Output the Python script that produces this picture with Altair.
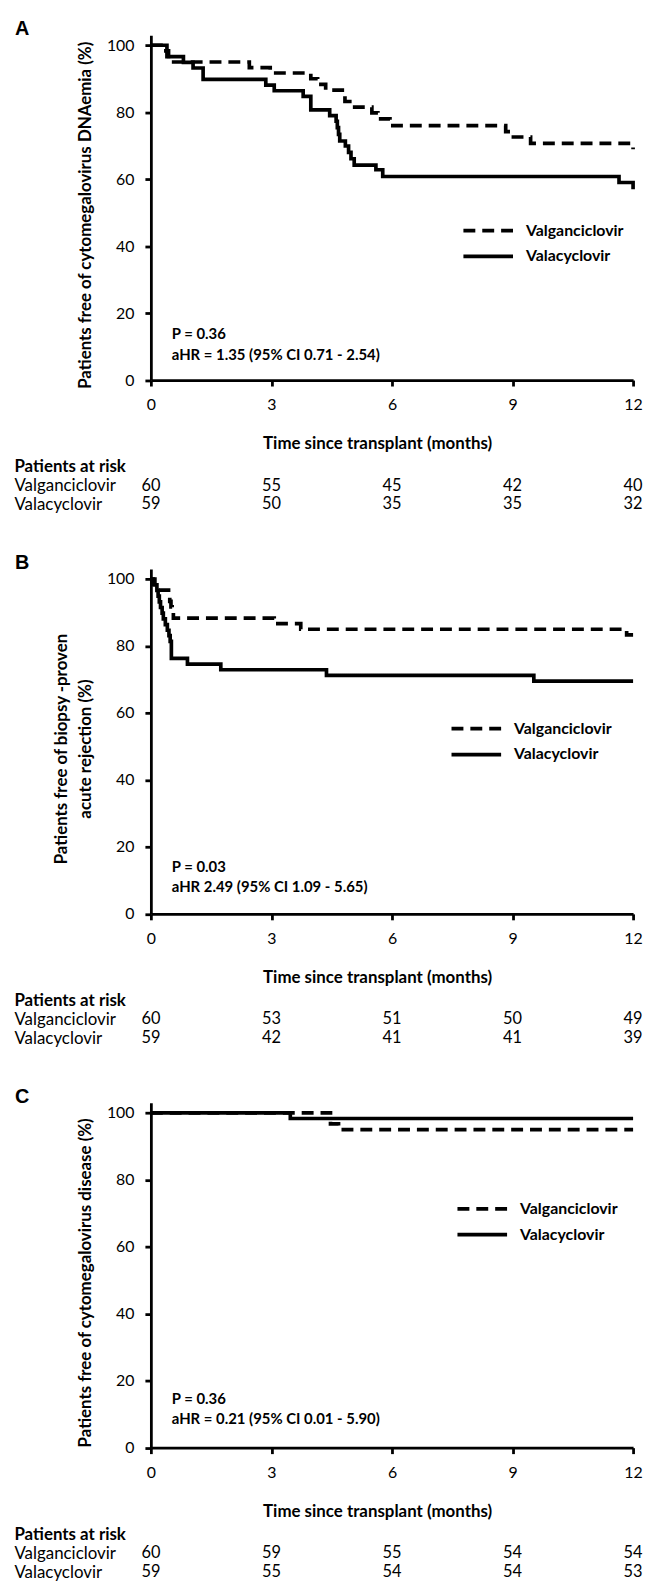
import altair as alt
import pandas as pd

SERIES = ["Valganciclovir", "Valacyclovir"]
RISK_ROWS = ["Patients at risk", "Valganciclovir", "Valacyclovir"]
risk_times = [0, 3, 6, 9, 12]

# ---------------- Panel A : CMV DNAemia ----------------
a_valg_t = [0, 0.31, 0.44, 2.45, 2.97, 3.98, 4.15, 4.35, 4.83, 4.95, 5.5, 5.65, 5.95, 8.83, 8.97, 9.45, 12.0]
a_valg_s = [100, 98.3, 95.0, 93.3, 91.7, 90.0, 88.3, 86.6, 83.2, 81.5, 79.8, 78.0, 76.0, 74.2, 72.6, 70.7, 68.9]
a_vala_t = [0, 0.40, 0.81, 1.05, 1.30, 2.86, 3.07, 3.79, 3.98, 4.45, 4.61, 4.64, 4.67, 4.70, 4.84, 4.92, 4.98,
            5.06, 5.60, 5.77, 11.65, 12.0]
a_vala_s = [100, 96.6, 94.9, 93.2, 89.8, 88.1, 86.4, 84.7, 80.7, 79.0, 77.3, 75.4, 73.4, 71.4, 69.9, 68.0, 66.1,
            64.2, 62.8, 60.8, 59.0, 57.0]
a_risk_valg = [60, 55, 45, 42, 40]
a_risk_vala = [59, 50, 35, 35, 32]
a_ytitle = "Patients free of cytomegalovirus DNAemia (%)"
a_p = "P = 0.36"
a_hr = "aHR = 1.35 (95% CI 0.71 - 2.54)"

# ---------------- Panel B : biopsy-proven acute rejection ----------------
b_valg_t = [0, 0.10, 0.20, 0.44, 0.47, 0.50, 0.53, 0.56, 3.07, 3.73, 11.84, 12.0]
b_valg_s = [100, 98.3, 96.7, 95.0, 93.3, 91.7, 90.0, 88.3, 86.7, 85.0, 83.3, 83.3]
b_vala_t = [0, 0.06, 0.15, 0.18, 0.21, 0.24, 0.28, 0.31, 0.36, 0.41, 0.45, 0.48, 0.51, 0.91, 1.74, 4.37, 9.53, 12.0]
b_vala_s = [100, 98.3, 96.6, 94.9, 93.2, 91.5, 89.8, 88.1, 86.4, 84.7, 83.1, 81.4, 76.3, 74.6, 72.9, 71.2, 69.5, 69.5]
b_risk_valg = [60, 53, 51, 50, 49]
b_risk_vala = [59, 42, 41, 41, 39]
b_ytitle = ["Patients free of biopsy -proven", "acute rejection (%)"]
b_p = "P = 0.03"
b_hr = "aHR 2.49 (95% CI 1.09 - 5.65)"

# ---------------- Panel C : CMV disease ----------------
c_valg_t = [0, 4.47, 4.67, 12.0]
c_valg_s = [100, 96.7, 95.0, 95.0]
c_vala_t = [0, 3.47, 12.0]
c_vala_s = [100, 98.3, 98.3]
c_risk_valg = [60, 59, 55, 54, 54]
c_risk_vala = [59, 55, 54, 54, 53]
c_ytitle = "Patients free of cytomegalovirus disease (%)"
c_p = "P = 0.36"
c_hr = "aHR = 0.21 (95% CI 0.01 - 5.90)"

# ---------------- layout / style ----------------
FONT = "Lato"
W = 486
YMAX = 103
HC = 347.6
SP = 10
HR = 537 - HC - 2 * SP
ANNOT_T = 0.52


def curves_chart(letter, ytitle, valg, vala, p_txt, hr_txt, ann_s, leg_x, leg_y):
    rows = []
    for name, (ts, ss) in zip(SERIES, [valg, vala]):
        for t, s in zip(ts, ss):
            rows.append({"series": name, "t": t, "s": s})
    df = pd.DataFrame(rows)

    x = alt.X("t:Q", scale=alt.Scale(domain=[0, 12], nice=False, zero=False),
              axis=alt.Axis(values=[0, 3, 6, 9, 12], title="Time since transplant (months)",
                            labelPadding=11, titlePadding=23, titleX=228, labelFlush=False))
    y = alt.Y("s:Q", scale=alt.Scale(domain=[0, YMAX], nice=False, zero=False),
              axis=alt.Axis(values=[0, 20, 40, 60, 80, 100], title=ytitle, titlePadding=12,
                            labelPadding=11, titleY=181, titleLineHeight=24))

    lines = alt.Chart(df).mark_line(interpolate="step-after", color="black", strokeWidth=3.7,
                                    strokeCap="butt").encode(
        x=x, y=y,
        strokeDash=alt.StrokeDash(
            "series:N",
            scale=alt.Scale(domain=SERIES, range=[[12, 7], [1, 0]]),
            legend=alt.Legend(title=None, orient="none", legendX=leg_x, legendY=leg_y,
                              symbolType="stroke", symbolSize=2500, symbolStrokeWidth=3.8,
                              symbolStrokeColor="black", labelFont=FONT, labelFontSize=16,
                              labelFontWeight="bold", labelColor="black", labelOffset=11,
                              clipHeight=20, rowPadding=6, padding=0, direction="vertical"),
        ),
    )

    ann = pd.DataFrame({"t": [ANNOT_T, ANNOT_T], "s": list(ann_s), "label": [p_txt, hr_txt]})
    texts = alt.Chart(ann).mark_text(align="left", baseline="middle", font=FONT, fontSize=15,
                                     fontWeight="bold", color="black").encode(
        x=alt.X("t:Q"), y=alt.Y("s:Q"), text="label:N")

    return alt.layer(lines, texts).properties(
        width=W, height=HC,
        title=alt.TitleParams(text=letter, anchor="start", frame="group", dx=-137, offset=-4,
                              baseline="top", font="Liberation Sans", fontSize=20,
                              fontWeight="bold", color="black"),
    )


def risk_chart(valg, vala):
    df = pd.DataFrame({
        "t": risk_times * 2,
        "row": ["Valganciclovir"] * 5 + ["Valacyclovir"] * 5,
        "n": valg + vala,
    })
    return alt.Chart(df).mark_text(font=FONT, fontSize=16.5, color="black", baseline="middle",
                                   align="center").encode(
        x=alt.X("t:Q", scale=alt.Scale(domain=[0, 12], nice=False, zero=False), axis=None),
        y=alt.Y("row:N", scale=alt.Scale(type="point", domain=RISK_ROWS, range=[77, 115], padding=0),
                axis=alt.Axis(title=None, domain=False, ticks=False, tickSize=0, labelAlign="left",
                              labelPadding=138, labelBaseline="middle", labelFontSize=17,
                              labelFontWeight={"condition": {"test": "datum.value === 'Patients at risk'",
                                                             "value": "bold"}, "value": "normal"})),
        text="n:Q",
    ).properties(width=W, height=HR)


chart = alt.vconcat(
    curves_chart("A", a_ytitle, (a_valg_t, a_valg_s), (a_vala_t, a_vala_s), a_p, a_hr, (13.6, 7.6), 313, 187),
    risk_chart(a_risk_valg, a_risk_vala),
    curves_chart("B", b_ytitle, (b_valg_t, b_valg_s), (b_vala_t, b_vala_s), b_p, b_hr, (14.0, 8.0), 301, 151),
    risk_chart(b_risk_valg, b_risk_vala),
    curves_chart("C", c_ytitle, (c_valg_t, c_valg_s), (c_vala_t, c_vala_s), c_p, c_hr, (14.5, 8.6), 307, 97),
    risk_chart(c_risk_valg, c_risk_vala),
    spacing=SP, bounds="flush",
).resolve_scale(
    x="independent", y="independent", strokeDash="independent"
).resolve_legend(
    strokeDash="independent"
).properties(
    padding={"left": 6, "top": 5, "right": 0, "bottom": 0}
).configure_view(
    stroke=None
).configure_axis(
    grid=False, domainColor="black", domainWidth=2.8, tickColor="black", tickWidth=2.8, tickSize=6,
    labelColor="black", labelFont=FONT, labelFontSize=16, titleFont=FONT, titleFontSize=17,
    titleFontWeight="bold", titleColor="black",
)

chart.save("out.html", embed_options={"renderer": "svg", "actions": False})
